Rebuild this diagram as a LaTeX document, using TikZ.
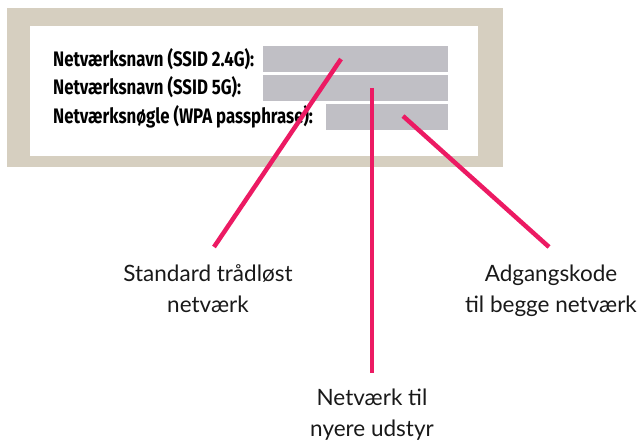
\documentclass[tikz,border=0pt]{standalone}
\usepackage{fontspec}
\setmainfont{Lato}
\newfontfamily\fieldfont{Fira Sans}
\usepackage{tikz}
\definecolor{frame_beige}{HTML}{D6CFC0}
\definecolor{field_grey}{HTML}{C0BFC5}
\definecolor{line_pink}{HTML}{EC1A63}
\tikzset{
    fieldlabel/.style={anchor=base west, inner sep=0pt, xscale=0.80,
        font=\fieldfont\bfseries\fontsize{21}{24}\selectfont},
    note/.style={anchor=base, align=center, inner sep=0pt, text=black!90,
        font=\fontsize{22.5}{31}\selectfont},
    pointer/.style={line_pink, line width=4.5pt}
}

\begin{document}
\begin{tikzpicture}[x=1pt,y=-1pt]

    \useasboundingbox (0,0) rectangle (640,441);

    % Cadre du label
    \fill[frame_beige] (7,8) rectangle (503,167);
    \fill[white] (30,26) rectangle (478,156);

    % Champs gris
    \fill[field_grey] (263,46) rectangle (448,72);
    \fill[field_grey] (263,75) rectangle (448,101);
    \fill[field_grey] (326,104) rectangle (448,130);

    % Textes des champs
    \node[fieldlabel] (ssid24) at (53,67) {Netværksnavn (SSID 2.4G):};
    \node[fieldlabel] (ssid5) at (53,95) {Netværksnavn (SSID 5G):};
    \node[fieldlabel] (wpa) at (53,124) {Netværksnøgle (WPA passphrase):};

    % Points de départ et d'arrivée des traits
    \coordinate (P1) at (341,59);
    \coordinate (P2) at (372,88);
    \coordinate (P3) at (403,116);
    \coordinate (E1) at (214,247);
    \coordinate (E2) at (372,373);
    \coordinate (E3) at (549,247);

    % Explications (ancre = ligne de base de la derniere ligne)
    \node[note] (standard) at (208,312) {Standard trådløst\\netværk};
    \node[note] (nyere) at (372,436) {Netværk til\\nyere udstyr};
    \node[note] (kode) at (551,312) {Adgangskode\\til begge netværk};

    % Traits roses
    \draw[pointer] (P1) -- (E1);
    \draw[pointer] (P2) -- (E2);
    \draw[pointer] (P3) -- (E3);
\end{tikzpicture}
\end{document}
